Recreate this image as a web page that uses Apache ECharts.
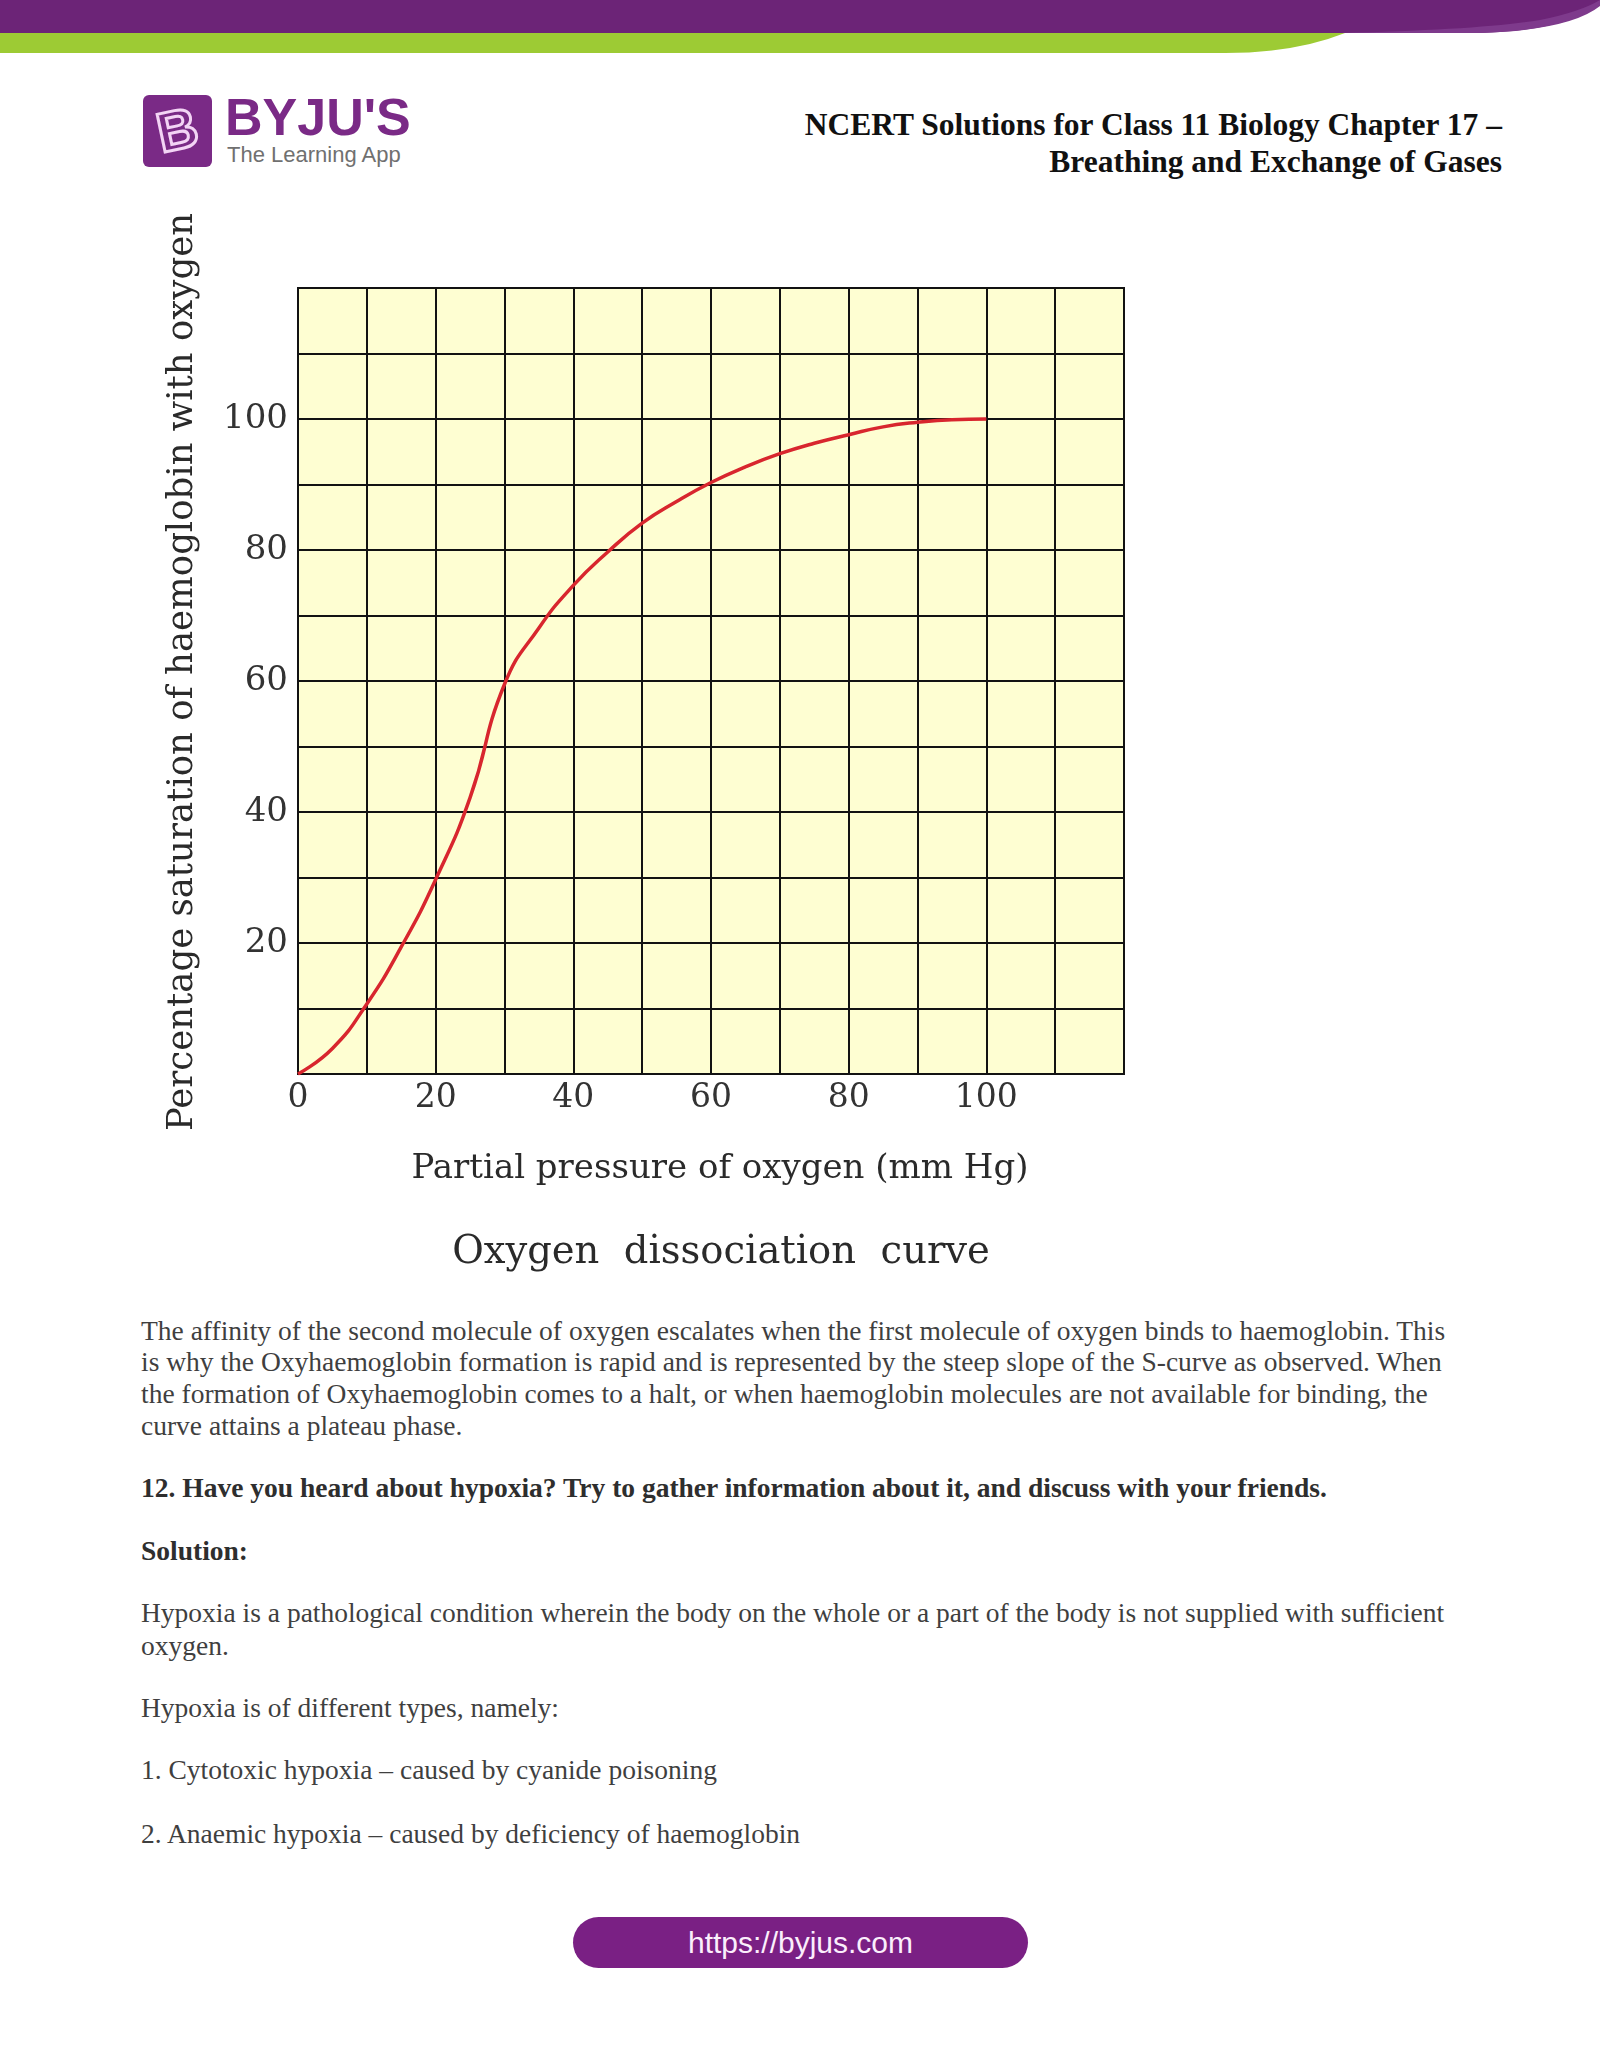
<!DOCTYPE html>
<html>
<head>
<meta charset="utf-8">
<title>Oxygen dissociation curve</title>
<script src="https://cdn.jsdelivr.net/npm/echarts@6/dist/echarts.min.js"></script>
<style>
  body { margin: 0; background: #fff; }
  #page { position: relative; width: 1600px; height: 2070px; overflow: hidden; background: #fff; }
  #chart { position: absolute; left: 0; top: 0; width: 1600px; height: 1300px; }
  .t { position: absolute; white-space: nowrap; font-family: "Liberation Serif", "Times New Roman", serif;
       color: #3f3f3f; font-size: 27.5px; line-height: 32px; }
  .b { font-weight: bold; color: #2e2e2e; }
  .head { position: absolute; right: 98px; text-align: right; white-space: nowrap;
          font-family: "Liberation Serif", serif; font-weight: bold; font-size: 31.5px; line-height: 37px; color: #111; }
  .logo-box { position: absolute; left: 143px; top: 95px; width: 69px; height: 72px; background: #7a2a86; border-radius: 6px; }
  .logo-b { position: absolute; left: 14px; top: 2px; font: bold 56px "Liberation Sans", sans-serif; color: #7a2a86;
            -webkit-text-stroke: 3px #f3d4f5; transform: rotate(-12deg); }
  .brand { position: absolute; left: 225px; top: 87px; font: bold 52px "Liberation Sans", sans-serif; color: #7a2a86; }
  .tag { position: absolute; left: 227px; top: 142px; font: 22px "Liberation Sans", sans-serif; color: #707070; }
  .pill { position: absolute; left: 573px; top: 1917px; width: 455px; height: 51px; border-radius: 26px;
          background: #7a2084; color: #fbeefc; text-align: center; font: 30px/51px "Liberation Sans", sans-serif; }
</style>
</head>
<body>
<div id="page">
  <svg width="1600" height="60" style="position:absolute;left:0;top:0">
    <path d="M0 33 L1345 33 Q1295 53 1225 53 L0 53 Z" fill="#9dcb34"/>
    <path d="M0 0 L1600 0 L1600 4 Q1560 33 1470 33 L0 33 Z" fill="#6c2477"/>
    <path d="M1340 33 Q1480 30 1540 20 Q1580 12 1600 0 L1600 6 Q1570 30 1480 33 Z" fill="#7e3a8c"/>
  </svg>

  <div class="logo-box"><div class="logo-b">B</div></div>
  <div class="brand">BYJU'S</div>
  <div class="tag">The Learning App</div>

  <div class="head" style="top:106px">NCERT Solutions for Class 11 Biology Chapter 17 –</div>
  <div class="head" style="top:143px">Breathing and Exchange of Gases</div>

  <div id="chart"></div>

  <div class="t" style="left:141px;top:1315px">The affinity of the second molecule of oxygen escalates when the first molecule of oxygen binds to haemoglobin. This</div>
  <div class="t" style="left:141px;top:1346px">is why the Oxyhaemoglobin formation is rapid and is represented by the steep slope of the S-curve as observed. When</div>
  <div class="t" style="left:141px;top:1378px">the formation of Oxyhaemoglobin comes to a halt, or when haemoglobin molecules are not available for binding, the</div>
  <div class="t" style="left:141px;top:1410px">curve attains a plateau phase.</div>

  <div class="t b" style="left:141px;top:1472px">12. Have you heard about hypoxia? Try to gather information about it, and discuss with your friends.</div>
  <div class="t b" style="left:141px;top:1535px">Solution:</div>

  <div class="t" style="left:141px;top:1597px">Hypoxia is a pathological condition wherein the body on the whole or a part of the body is not supplied with sufficient</div>
  <div class="t" style="left:141px;top:1630px">oxygen.</div>
  <div class="t" style="left:141px;top:1692px">Hypoxia is of different types, namely:</div>
  <div class="t" style="left:141px;top:1754px">1. Cytotoxic hypoxia – caused by cyanide poisoning</div>
  <div class="t" style="left:141px;top:1818px">2. Anaemic hypoxia – caused by deficiency of haemoglobin</div>

  <div class="pill">https://byjus.com</div>
</div>

<script>
// partial pressure of O2 (mm Hg) and % saturation
const pressure   = [0, 5, 10, 15, 20, 25, 30, 35, 40, 45, 50, 55, 60, 65, 70, 75, 80, 85, 90, 95, 100];
const saturation = [0, 3.9, 10.7, 19.4, 29.7, 42.2, 59.5, 68.1, 74.6, 79.7, 84.1, 87.4, 90.3, 92.7, 94.7, 96.3, 97.6, 98.8, 99.5, 99.9, 100];
const xTickLabels = [0, 20, 40, 60, 80, 100];
const yTickLabels = [20, 40, 60, 80, 100];

const chart = echarts.init(document.getElementById('chart'));

const gridColor = '#121212';
const labelFont = '"DejaVu Serif", serif';

const option = {
  animation: false,
  title: {
    text: 'Oxygen  dissociation  curve',
    left: 716,
    top: 1228,
    textAlign: 'center',
    textStyle: { fontFamily: labelFont, fontSize: 38.5, fontWeight: 'normal', color: '#2a2a2a' }
  },
  grid: {
    left: 298, top: 288, width: 826, height: 786,
    show: true,
    backgroundColor: '#fefed2',
    borderColor: gridColor,
    borderWidth: 2
  },
  xAxis: {
    type: 'value',
    min: 0, max: 120, interval: 10,
    name: 'Partial pressure of oxygen (mm Hg)',
    nameLocation: 'middle',
    nameGap: 78,
    nameTextStyle: { fontFamily: labelFont, fontSize: 34, color: '#2a2a2a', padding: [0, 0, 0, 18] },
    axisLine: { show: false },
    axisTick: { show: false },
    axisLabel: {
      margin: 8,
      fontFamily: labelFont, fontSize: 33, color: '#333',
      formatter: v => xTickLabels.includes(v) ? String(v) : ''
    },
    splitLine: { show: true, lineStyle: { color: gridColor, width: 2 } }
  },
  yAxis: {
    type: 'value',
    min: 0, max: 120, interval: 10,
    name: 'Percentage saturation of haemoglobin with oxygen',
    nameLocation: 'middle',
    nameGap: 97,
    nameTextStyle: { fontFamily: labelFont, fontSize: 35.5, color: '#2a2a2a', padding: [0, 0, 0, 18] },
    axisLine: { show: false },
    axisTick: { show: false },
    axisLabel: {
      margin: 10,
      fontFamily: labelFont, fontSize: 34, color: '#333',
      formatter: v => yTickLabels.includes(v) ? String(v) : ''
    },
    splitLine: { show: true, lineStyle: { color: gridColor, width: 2 } }
  },
  series: [
    {
      type: 'line',
      data: pressure.map((p, i) => [p, saturation[i]]),
      smooth: 0.5,
      showSymbol: false,
      lineStyle: { color: '#d8262e', width: 3.5 }
    }
  ]
};

chart.setOption(option);
</script>
</body>
</html>
